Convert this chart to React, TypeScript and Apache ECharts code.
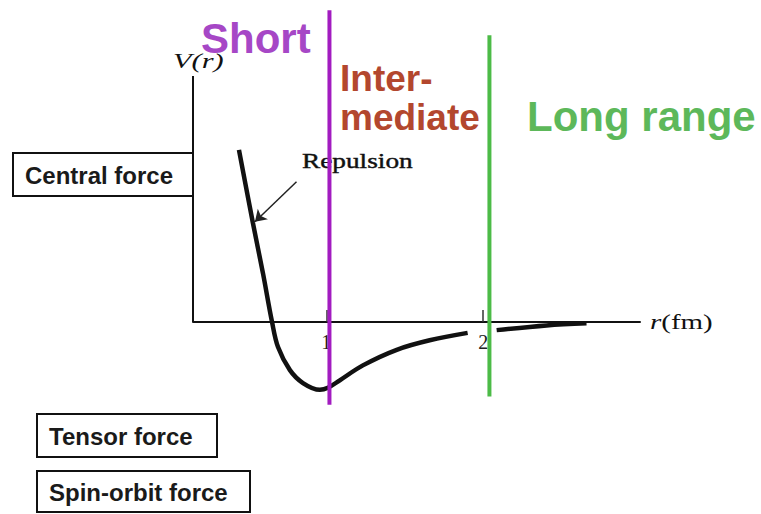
import React, { useEffect, useRef } from "react";
import * as echarts from "echarts";

// Potential curve V(r) (r in fm, V in arbitrary units)
const radiusFm: number[] = [0.443, 0.532, 0.596, 0.654, 0.692, 0.768, 0.851, 0.959, 1.01, 1.086, 1.233, 1.449, 1.659, 1.901, 1.99, 2.086, 2.404, 2.659];
const potential: (number | null)[] = [2.54, 1.46, 0.72, 0.0, -0.37, -0.71, -0.9, -1.0, -0.97, -0.86, -0.64, -0.41, -0.27, -0.16, null, -0.12, -0.05, -0.02];

// Range boundaries (r) and their vertical extents (V)
const shortBoundary = { r: 1.02, from: -1.22, to: 4.6 };
const longBoundary = { r: 2.04, from: -1.1, to: 4.23 };

// Axes
const rMin = 0.15;
const rMax = 3.0;
const vMin = 0;
const vMax = 4.75;
const vAxisTop = 3.63;
const xTickValues = [1, 2];

// Repulsion arrow (tail -> head)
const arrowTail = [0.81, 2.07];
const arrowHead = [0.545, 1.48];

// Labels
const rangeLabels = ["Short", "Inter-", "mediate", "Long range"];
const forceLabels = ["Central force", "Tensor force", "Spin-orbit force"];

export default function App() {
  const ref = useRef<HTMLDivElement>(null);

  useEffect(() => {
    if (!ref.current) return;
    const chart = echarts.init(ref.current, undefined, { renderer: "svg" });

    const curveData = radiusFm.map((r, i) => [r, potential[i] === null ? "-" : potential[i]]);

    const sans = "'Liberation Sans', Arial, Helvetica, sans-serif";
    const serif = "'Liberation Serif', 'Times New Roman', serif";

    const boxText = (x: number, y: number, w: number, h: number, label: string) => ({
      type: "group",
      children: [
        {
          type: "rect",
          shape: { x, y, width: w, height: h },
          style: { fill: "#fff", stroke: "#111", lineWidth: 2 },
          z: 1,
        },
        {
          type: "text",
          x: x + 12,
          y: y + h / 2 + 1,
          style: {
            text: label,
            fontSize: 24,
            fontWeight: "bold",
            fontFamily: sans,
            fill: "#1a1a1a",
            textAlign: "left",
            textVerticalAlign: "middle",
            align: "left",
            verticalAlign: "middle",
          },
          z: 2,
        },
      ],
    });

    const bigLabel = (x: number, y: number, text: string, size: number, color: string) => ({
      type: "text",
      x,
      y,
      style: {
        text,
        fontSize: size,
        fontWeight: "bold",
        fontFamily: sans,
        fill: color,
        textAlign: "left",
        textVerticalAlign: "middle",
        align: "left",
        verticalAlign: "middle",
      },
      z: 10,
    });

    const option: any = {
      animation: false,
      backgroundColor: "#fff",
      grid: { left: 193, right: 121, top: 0, bottom: 192 },
      xAxis: {
        type: "value",
        min: rMin,
        max: rMax,
        axisLine: { show: true, lineStyle: { color: "#111", width: 2 } },
        axisTick: { show: true, inside: true, length: 12, customValues: xTickValues, lineStyle: { color: "#333", width: 1.5 } },
        axisLabel: {
          show: true,
          customValues: xTickValues,
          fontFamily: serif,
          fontSize: 20,
          color: "#222",
          margin: 10,
        },
        splitLine: { show: false },
      },
      yAxis: {
        type: "value",
        min: vMin,
        max: vMax,
        axisLine: { show: false },
        axisTick: { show: false },
        axisLabel: { show: false },
        splitLine: { show: false },
      },
      series: [
        {
          name: "V axis",
          type: "line",
          data: [[rMin, 0], [rMin, vAxisTop]],
          symbol: "none",
          clip: false,
          lineStyle: { color: "#111", width: 2 },
          z: 2,
        },
        {
          name: "V(r)",
          type: "line",
          data: curveData,
          smooth: 0.35,
          connectNulls: false,
          clip: false,
          symbol: "none",
          lineStyle: { color: "#111", width: 4.5 },
          z: 3,
        },
        {
          name: "Repulsion arrow",
          type: "line",
          data: [],
          markLine: {
            silent: true,
            animation: false,
            symbol: ["none", "arrow"],
            symbolSize: 11,
            label: { show: false },
            lineStyle: { color: "#222", width: 1.5, type: "solid" },
            data: [[{ coord: arrowTail }, { coord: arrowHead }]],
          },
          z: 3,
        },
        {
          name: "Short boundary",
          type: "line",
          data: [[shortBoundary.r, shortBoundary.from], [shortBoundary.r, shortBoundary.to]],
          symbol: "none",
          clip: false,
          lineStyle: { color: "#a21cc0", width: 4 },
          z: 5,
        },
        {
          name: "Long boundary",
          type: "line",
          data: [[longBoundary.r, longBoundary.from], [longBoundary.r, longBoundary.to]],
          symbol: "none",
          clip: false,
          lineStyle: { color: "#4cbb47", width: 4 },
          z: 5,
        },
      ],
      graphic: [
        {
          type: "text",
          x: 173,
          y: 61,
          scaleX: 1.45,
          style: {
            text: "V(r)",
            fontSize: 21,
            fontStyle: "italic",
            fontFamily: serif,
            fill: "#111",
            textAlign: "left",
            textVerticalAlign: "middle",
            align: "left",
            verticalAlign: "middle",
          },
          z: 1,
        },
        {
          type: "text",
          x: 302,
          y: 161,
          scaleX: 1.3,
          style: {
            text: "Repulsion",
            fontSize: 21,
            fontFamily: serif,
            fill: "#111",
            stroke: "#111",
            lineWidth: 0.4,
            textAlign: "left",
            textVerticalAlign: "middle",
            align: "left",
            verticalAlign: "middle",
          },
          z: 1,
        },
        {
          type: "text",
          x: 650,
          y: 322,
          scaleX: 1.45,
          style: {
            text: "{i|r}{n|(fm)}",
            rich: {
              i: { fontSize: 20, fontStyle: "italic", fontFamily: serif, fill: "#111", color: "#111" },
              n: { fontSize: 20, fontFamily: serif, fill: "#111", color: "#111" },
            },
            textAlign: "left",
            textVerticalAlign: "middle",
            align: "left",
            verticalAlign: "middle",
          },
          z: 1,
        },
        bigLabel(201, 38, rangeLabels[0], 42, "#a647c6"),
        bigLabel(340, 78, rangeLabels[1], 37, "#b3472e"),
        bigLabel(340, 117, rangeLabels[2], 37, "#b3472e"),
        bigLabel(527, 116, rangeLabels[3], 42, "#5db85a"),
        boxText(13, 153, 180, 43, forceLabels[0]),
        boxText(37, 414, 180, 43, forceLabels[1]),
        boxText(37, 471, 213, 41, forceLabels[2]),
      ],
    };

    chart.setOption(option);
    return () => chart.dispose();
  }, []);

  return (
    <div
      ref={ref}
      style={{ position: "absolute", left: 0, top: 0, width: 761, height: 514, background: "#fff" }}
    />
  );
}
